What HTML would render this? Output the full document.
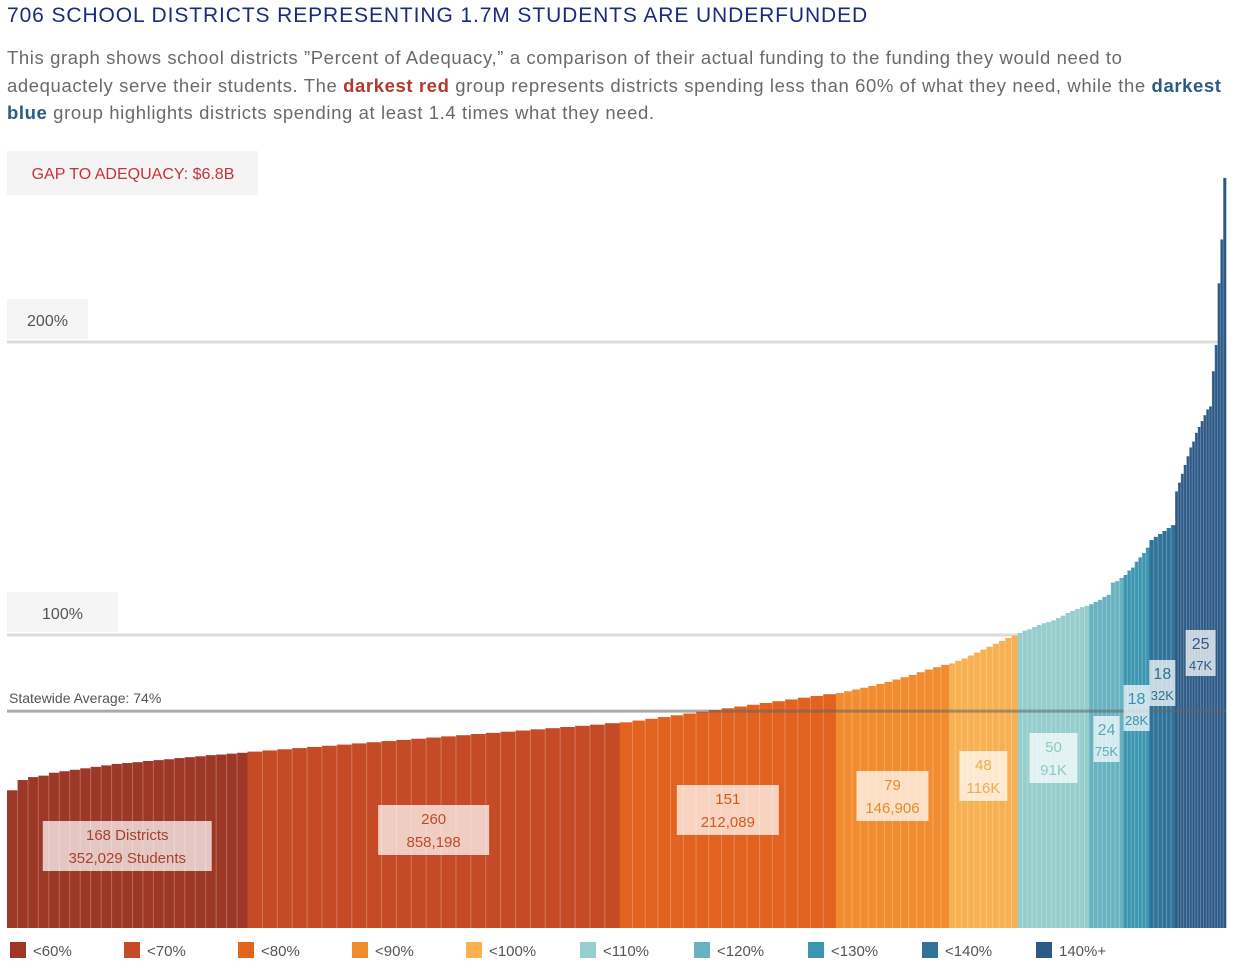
<!DOCTYPE html>
<html><head><meta charset="utf-8"><style>
body{margin:0;width:1248px;height:967px;background:#fff;font-family:"Liberation Sans","DejaVu Sans",sans-serif;overflow:hidden;position:relative}
#title{position:absolute;left:7px;top:4px;font-size:21px;color:#1b2a80;letter-spacing:0.9px;white-space:nowrap}
#sub{position:absolute;left:7px;top:44px;font-size:18.5px;line-height:27.5px;color:#6a6a6a;white-space:nowrap;letter-spacing:0.6px}
#sub b.r{color:#b03a2e}#sub b.b{color:#2c5985}
svg{position:absolute;left:0;top:0}
</style></head><body>
<div id="title">706 SCHOOL DISTRICTS REPRESENTING 1.7M STUDENTS ARE UNDERFUNDED</div>
<div id="sub">This graph shows school districts ”Percent of Adequacy,” a comparison of their actual funding to the funding they would need to<br>adequactely serve their students. The <b class="r">darkest red</b> group represents districts spending less than 60% of what they need, while the <b class="b">darkest</b><br><b class="b">blue</b> group highlights districts spending at least 1.4 times what they need.</div>
<svg id="chart" width="1248" height="967"></svg>
<script>
const groupNames=["<60%","<70%","<80%","<90%","<100%","<110%","<120%","<130%","<140%","140%+"];
const districtCounts=[168,260,151,79,48,50,24,18,18,25];
const studentLabels=["352,029","858,198","212,089","146,906","116K","91K","75K","28K","32K","47K"];
const g1=[47,50.5,51.5,52,53,53.5,54,54.5,55,55.5,56,56.3,56.6,57,57.3,57.6,58,58.3,58.6,59,59.2,59.5,59.8];
const g2=[60.2,60.6,61,61.4,61.8,62.2,62.6,63,63.4,63.8,64.2,64.6,65,65.4,65.8,66.2,66.6,67,67.4,67.8,68.2,68.6,69,69.4,69.9];
const g3=[70.2,70.8,71.4,72,72.6,73.2,73.8,74.4,75,75.6,76.2,76.8,77.4,78,78.6,79.2,79.8];
const g4=[80.2,80.8,81.4,82,82.6,83.3,84,84.8,85.6,86.4,87.3,88.2,89,89.8];
const g5=[90.3,91.2,92,93,94,95,96,97,98,99,99.8];
const g6=[100.7,101.5,102,102.7,103.4,104,104.4,105,105.8,106.6,107.5,108.2,108.9,109.5,110];
const g7=[110.5,111.3,112,113,113.7,117.9,118.4,119.5];
const g8=[120.5,122,123,125,126.5,128,129.8];
const g9=[132.4,133.5,134.5,135.5,136.5,137.5];
const g10=[149,152,155,158,161,164,166,169,171,173,175,177,178,190,199,220,235,256];
const groupValues=[g1,g2,g3,g4,g5,g6,g7,g8,g9,g10];
const statewideAvg=74;
const refLines=[100,200];

const colors=["#9e3826","#c54b26","#e2621f","#f28c30","#f7b152","#96cdcd","#67b3c1","#3c96b0","#2f7398","#2c5985"];
const textColors=["#a8402e","#c14a26","#d45a1d","#e88a30","#f0aa50","#8cc8c8","#5aaabb","#3c90ab","#2f6f92","#2c5985"];
const labelY=[821,805,785,771,751,733,716,685,660,630];
const X0=7,X1=1211,PLOT_END=1226,Y0=928,PX=2.93;
const total=districtCounts.reduce((a,b)=>a+b,0);
const xs=d=>X0+d*(X1-X0)/total;
const ys=v=>Y0-v*PX;
const svg=document.getElementById('chart');
const NS='http://www.w3.org/2000/svg';
function mk(t,a,p){const e=document.createElementNS(NS,t);for(const k in a)e.setAttribute(k,a[k]);(p||svg).appendChild(e);return e;}
function gEnd(gi,cum){return gi===districtCounts.length-1?PLOT_END:xs(cum+districtCounts[gi]);}

let gb=mk('rect',{x:7,y:151,width:251,height:44,fill:'#f4f4f4'});


let gt=mk('text',{x:133,y:179,'text-anchor':'middle','font-size':16,fill:'#c8313d'});gt.textContent='GAP TO ADEQUACY: $6.8B';


refLines.forEach(v=>{
  const w=v===200?81:111;
  const b=mk('rect',{x:7,y:ys(v)-43,width:w,height:40,fill:'#f5f5f5'});
  
  
  const t=mk('text',{x:7+w/2,y:ys(v)-16,'text-anchor':'middle','font-size':16,fill:'#555'});t.textContent=v+'%';
  
  
  const l=mk('line',{x1:7,x2:1226,y1:ys(v),y2:ys(v),stroke:'#dcdcdc','stroke-width':3});
  
  
});

let cum=0;
groupValues.forEach((vals,gi)=>{
  const gx0=xs(cum),gx1=gEnd(gi,cum);
  const bw=(gx1-gx0)/vals.length;
  vals.forEach((v,i)=>{
    const r=mk('rect',{x:gx0+i*bw,y:ys(v),width:bw+0.3,height:Y0-ys(v),fill:colors[gi]});
    
    
    if(i>0){const s=mk('line',{x1:gx0+i*bw,x2:gx0+i*bw,y1:ys(v)+1,y2:Y0,stroke:'rgba(255,255,255,0.25)','stroke-width':1});
      
      }
  });
  cum+=districtCounts[gi];
});

let al=mk('line',{x1:7,x2:1226,y1:ys(statewideAvg),y2:ys(statewideAvg),stroke:'rgba(100,100,100,0.55)','stroke-width':3});


let at=mk('text',{x:9,y:ys(statewideAvg)-8,'font-size':14,fill:'#555'});at.textContent='Statewide Average: '+statewideAvg+'%';



cum=0;
districtCounts.forEach((n,gi)=>{
  const cx=(xs(cum)+gEnd(gi,cum))/2;cum+=n;
  const l1=gi===0?n+' Districts':String(n);
  const l2=gi===0?studentLabels[gi]+' Students':studentLabels[gi];
  const small=gi>=6;
  const w=gi===0?169:gi===1?111:gi===2?102:gi===3?72:gi<=5?48:small?(gi===9?30:26):44;
  const h=small?46:50;
  const b=mk('rect',{x:cx-w/2,y:labelY[gi],width:w,height:h,fill:'rgba(255,255,255,0.72)'});
  
  
  const t1=mk('text',{x:cx,y:labelY[gi]+19,'text-anchor':'middle','font-size':small?16:15,fill:textColors[gi]});t1.textContent=l1;
  
  
  const t2=mk('text',{x:cx,y:labelY[gi]+(small?40:42),'text-anchor':'middle','font-size':small?13:15,fill:textColors[gi]});t2.textContent=l2;
  
  
});

groupNames.forEach((g,i)=>{
  const x=10+i*114;
  const r=mk('rect',{x:x,y:942,width:16,height:16,fill:colors[i]});
  
  
  const t=mk('text',{x:x+23,y:956,'font-size':15,fill:'#555'});t.textContent=g;
  
  
});
</script>
</body></html>
